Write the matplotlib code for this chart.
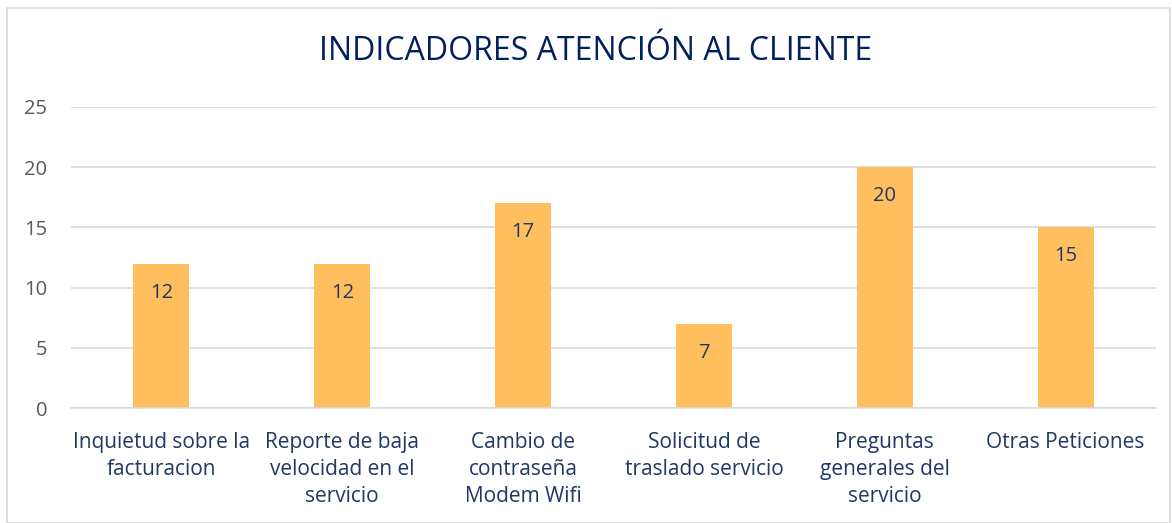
import matplotlib.pyplot as plt
from matplotlib.patches import Rectangle

# datos del grafico
categorias = [
    "Inquietud sobre la\nfacturacion",
    "Reporte de baja\nvelocidad en el\nservicio",
    "Cambio de\ncontraseña\nModem Wifi",
    "Solicitud de\ntraslado servicio",
    "Preguntas\ngenerales del\nservicio",
    "Otras Peticiones",
]
valores = [12, 12, 17, 7, 20, 15]
y_ticks = [0, 5, 10, 15, 20, 25]

NAVY = "#1F3864"
BAR = "#FFBF5F"

plt.rcParams['font.family'] = ['Open Sans', 'DejaVu Sans']

fig = plt.figure(figsize=(11.72, 5.23), dpi=100)
ax = fig.add_axes([71 / 1172, 1 - 408 / 523, (1156 - 71) / 1172, (408 - 107) / 523])

x = list(range(len(categorias)))
bars = ax.bar(x, valores, width=0.31, color=BAR, zorder=2)

for b, v in zip(bars, valores):
    ax.annotate(str(v), (b.get_x() + b.get_width() / 2, v),
                xytext=(0, -29), textcoords="offset pixels",
                ha="center", va="center", fontsize=14.5, color=NAVY)

ax.set_xlim(-0.5, len(categorias) - 0.5)
ax.set_ylim(0, 25)
ax.set_yticks(y_ticks)
ax.yaxis.grid(True, color="#D9D9D9", linewidth=1.2, zorder=0)
ax.set_axisbelow(True)
ax.tick_params(axis="y", length=0, labelsize=14.5, labelcolor="#595959", pad=17)
ax.set_xticks(x)
ax.set_xticklabels(categorias, fontsize=15, color=NAVY, linespacing=1.38, va="top")
ax.tick_params(axis="x", length=0, pad=17)
for s in ["top", "right", "left"]:
    ax.spines[s].set_visible(False)
ax.spines["bottom"].set_color("#D9D9D9")
ax.spines["bottom"].set_linewidth(1.2)

fig.text(596 / 1172, 1 - 52 / 523, "INDICADORES ATENCIÓN AL CLIENTE",
         ha="center", va="center", fontsize=23, color="#002060")

fig.patches.append(Rectangle((7 / 1172, 0), 1 - 9 / 1172, 1 - 8 / 523,
                             transform=fig.transFigure, fill=False,
                             edgecolor="#D9D9D9", linewidth=1.2))

fig.savefig("out.png", dpi=100)
